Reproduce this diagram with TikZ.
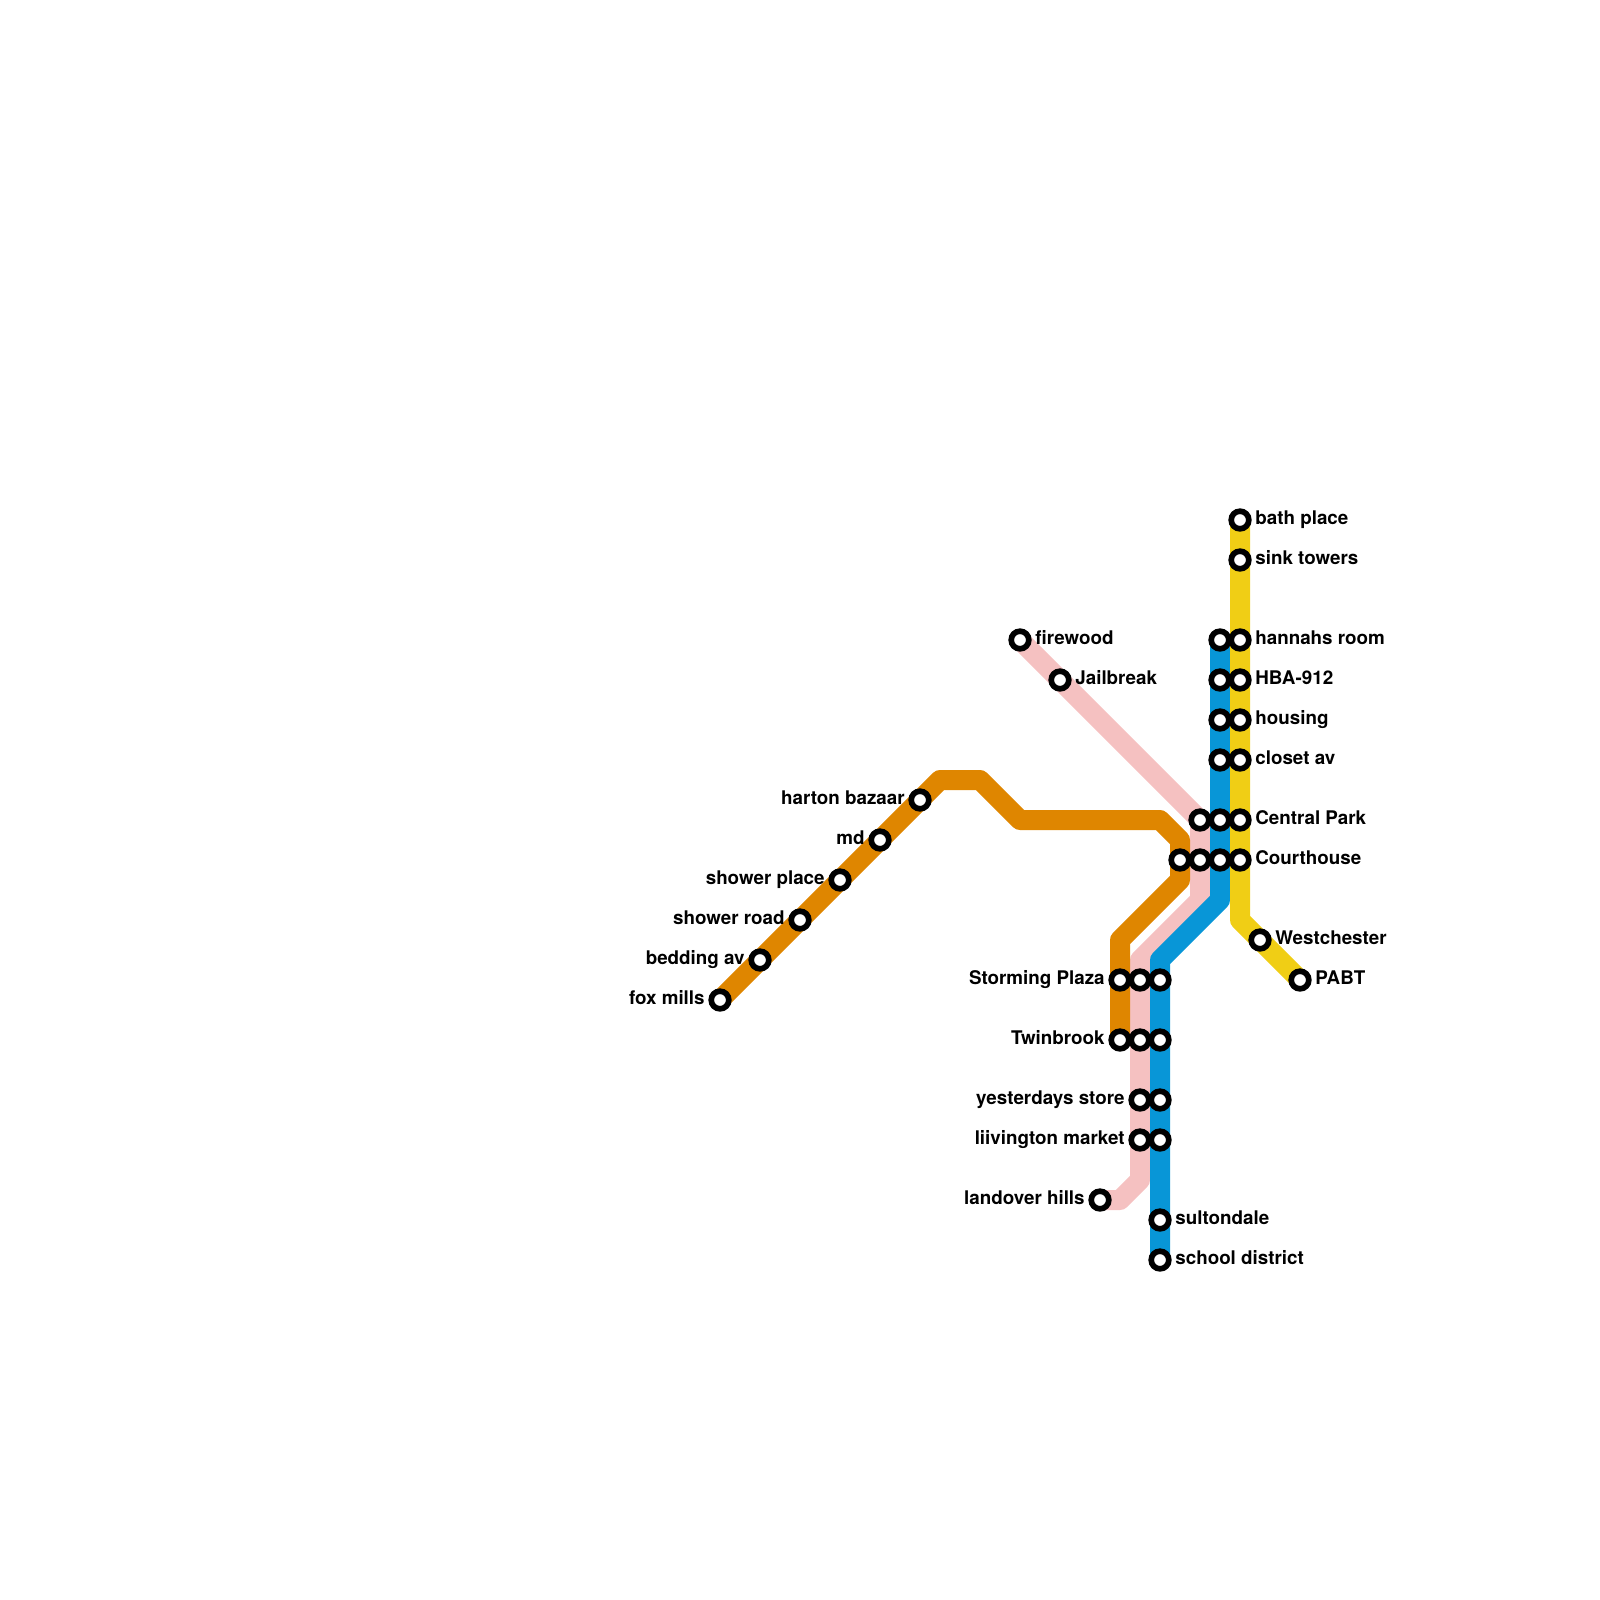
\documentclass[tikz,border=0pt]{standalone}
\usepackage{fontspec}
\setmainfont{TeX Gyre Heros}
\usetikzlibrary{backgrounds}

\definecolor{orangeline}{HTML}{DF8600}
\definecolor{pinkline}{HTML}{F5C1C1}
\definecolor{blueline}{HTML}{0896D7}
\definecolor{yellowline}{HTML}{F0CE15}

\tikzset{
    route/.style={line width=.4cm, line join=round},
    stop/.style={
        circle,
        draw=black,
        fill=white,
        line width=.114cm,
        inner sep=0pt,
        minimum size=.352cm
    },
    namebase/.style={font=\fontsize{10.7}{12}\selectfont\bfseries, inner sep=0pt, yshift=-.09cm},
    nameright/.style={namebase, anchor=base west, xshift=.3cm},
    nameleft/.style={namebase, anchor=base east, xshift=-.3cm}
}

\begin{document}
\begin{tikzpicture}[x=.4cm, y=-.4cm]

\useasboundingbox (0,0) rectangle (80,80);

% west branch
\node[stop] (foxmills) at (36,50) {};
\node[stop] (bedding) at (38,48) {};
\node[stop] (showerroad) at (40,46) {};
\node[stop] (showerplace) at (42,44) {};
\node[stop] (md) at (44,42) {};
\node[stop] (harton) at (46,40) {};

% north-west branch
\node[stop] (firewood) at (51,32) {};
\node[stop] (jailbreak) at (53,34) {};

% north
\node[stop] (bath) at (62,26) {};
\node[stop] (sink) at (62,28) {};
\node[stop] (hannahsb) at (61,32) {};
\node[stop] (hannahsy) at (62,32) {};
\node[stop] (hbab) at (61,34) {};
\node[stop] (hbay) at (62,34) {};
\node[stop] (housingb) at (61,36) {};
\node[stop] (housingy) at (62,36) {};
\node[stop] (closetb) at (61,38) {};
\node[stop] (closety) at (62,38) {};

% centre
\node[stop] (centralp) at (60,41) {};
\node[stop] (centralb) at (61,41) {};
\node[stop] (centraly) at (62,41) {};
\node[stop] (courto) at (59,43) {};
\node[stop] (courtp) at (60,43) {};
\node[stop] (courtb) at (61,43) {};
\node[stop] (courty) at (62,43) {};

% south-east
\node[stop] (westchester) at (63,47) {};
\node[stop] (pabt) at (65,49) {};

% south
\node[stop] (stormingo) at (56,49) {};
\node[stop] (stormingp) at (57,49) {};
\node[stop] (stormingb) at (58,49) {};
\node[stop] (twino) at (56,52) {};
\node[stop] (twinp) at (57,52) {};
\node[stop] (twinb) at (58,52) {};
\node[stop] (yesterp) at (57,55) {};
\node[stop] (yesterb) at (58,55) {};
\node[stop] (liivp) at (57,57) {};
\node[stop] (liivb) at (58,57) {};
\node[stop] (landover) at (55,60) {};
\node[stop] (sultondale) at (58,61) {};
\node[stop] (school) at (58,63) {};

% bends
\coordinate (obenda) at (47,39);
\coordinate (obendb) at (49,39);
\coordinate (obendc) at (51,41);
\coordinate (obendd) at (58,41);
\coordinate (obende) at (59,42);
\coordinate (obendf) at (59,44);
\coordinate (obendg) at (56,47);
\coordinate (pbenda) at (60,45);
\coordinate (pbendb) at (57,48);
\coordinate (pbendc) at (57,59);
\coordinate (pbendd) at (56,60);
\coordinate (bbenda) at (61,45);
\coordinate (bbendb) at (58,48);
\coordinate (ybend) at (62,46);

\begin{pgfonlayer}{background}
\draw[route, pinkline] (firewood.center) -- (jailbreak.center) -- (centralp.center)
    -- (courtp.center) -- (pbenda) -- (pbendb) -- (stormingp.center) -- (twinp.center)
    -- (yesterp.center) -- (liivp.center) -- (pbendc) -- (pbendd) -- (landover.center);
\draw[route, orangeline] (foxmills.center) -- (harton.center) -- (obenda) -- (obendb)
    -- (obendc) -- (obendd) -- (obende) -- (courto.center) -- (obendf) -- (obendg)
    -- (stormingo.center) -- (twino.center);
\draw[route, blueline] (hannahsb.center) -- (closetb.center) -- (courtb.center)
    -- (bbenda) -- (bbendb) -- (stormingb.center) -- (school.center);
\draw[route, yellowline] (bath.center) -- (courty.center) -- (ybend)
    -- (westchester.center) -- (pabt.center);
\end{pgfonlayer}

% names
\node[nameleft] (lfoxmills) at (foxmills) {fox mills};
\node[nameleft] (lbedding) at (bedding) {bedding av};
\node[nameleft] (lshowerroad) at (showerroad) {shower road};
\node[nameleft] (lshowerplace) at (showerplace) {shower place};
\node[nameleft] (lmd) at (md) {md};
\node[nameleft] (lharton) at (harton) {harton bazaar};
\node[nameright] (lfirewood) at (firewood) {firewood};
\node[nameright] (ljailbreak) at (jailbreak) {Jailbreak};
\node[nameright] (lbath) at (bath) {bath place};
\node[nameright] (lsink) at (sink) {sink towers};
\node[nameright] (lhannahs) at (hannahsy) {hannahs room};
\node[nameright] (lhba) at (hbay) {HBA-912};
\node[nameright] (lhousing) at (housingy) {housing};
\node[nameright] (lcloset) at (closety) {closet av};
\node[nameright] (lcentral) at (centraly) {Central Park};
\node[nameright] (lcourt) at (courty) {Courthouse};
\node[nameright] (lwestchester) at (westchester) {Westchester};
\node[nameright] (lpabt) at (pabt) {PABT};
\node[nameleft] (lstorming) at (stormingo) {Storming Plaza};
\node[nameleft] (ltwin) at (twino) {Twinbrook};
\node[nameleft] (lyester) at (yesterp) {yesterdays store};
\node[nameleft] (lliiv) at (liivp) {liivington market};
\node[nameleft] (llandover) at (landover) {landover hills};
\node[nameright] (lsultondale) at (sultondale) {sultondale};
\node[nameright] (lschool) at (school) {school district};

\end{tikzpicture}
\end{document}
